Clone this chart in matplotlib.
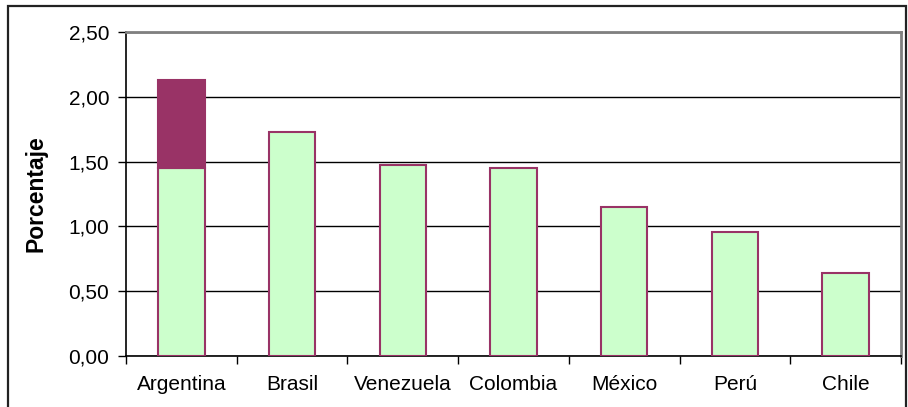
import matplotlib.pyplot as plt
from matplotlib.patches import Rectangle
from matplotlib.ticker import FuncFormatter, FixedLocator

paises = ['Argentina', 'Brasil', 'Venezuela', 'Colombia', 'México', 'Perú', 'Chile']
base = [1.45, 1.73, 1.47, 1.45, 1.15, 0.96, 0.64]
extra = [0.68, 0, 0, 0, 0, 0, 0]

plt.rcParams['font.family'] = ['Liberation Sans', 'DejaVu Sans']

fig = plt.figure(figsize=(9.08, 4.07), dpi=100)
ax = fig.add_axes([126 / 908, 51 / 407, 775 / 908, 324 / 407])

x = range(len(paises))
ax.bar(x, base, width=0.42, color='#CCFFCC', edgecolor='#993366', linewidth=1.5, zorder=3)
ax.bar(x[0], extra[0], bottom=base[0], width=0.42, color='#993366',
       edgecolor='#993366', linewidth=1.5, zorder=3)

ax.set_xlim(-0.5, len(paises) - 0.5)
ax.set_ylim(0, 2.5)
ax.set_yticks([0, 0.5, 1.0, 1.5, 2.0, 2.5])
ax.yaxis.set_major_formatter(FuncFormatter(lambda v, p: f'{v:.2f}'.replace('.', ',')))
ax.grid(axis='y', color='black', linewidth=1, zorder=0)

# category labels centred, ticks on the boundaries
ax.set_xticks(list(x))
ax.set_xticklabels(paises)
ax.tick_params(axis='x', length=0, labelsize=15, pad=14)
ax.xaxis.set_minor_locator(FixedLocator([i - 0.5 for i in range(len(paises) + 1)]))
ax.tick_params(axis='x', which='minor', length=6, width=1, direction='out')
ax.tick_params(axis='y', length=6, width=1, direction='out', labelsize=15, pad=6)

ax.set_ylabel('Porcentaje', fontsize=16.5, fontweight='bold', labelpad=15)

for s in ['left', 'bottom']:
    ax.spines[s].set_color('black')
    ax.spines[s].set_linewidth(1.2)
for s in ['top', 'right']:
    ax.spines[s].set_color('#808080')
    ax.spines[s].set_linewidth(2)

# outer frame
fig.patches.append(Rectangle((8 / 908, -0.02), 898 / 908, 1.02 - 6 / 407, transform=fig.transFigure,
                             fill=False, edgecolor='#222222', linewidth=1.6))

fig.savefig('out.png', dpi=100)
